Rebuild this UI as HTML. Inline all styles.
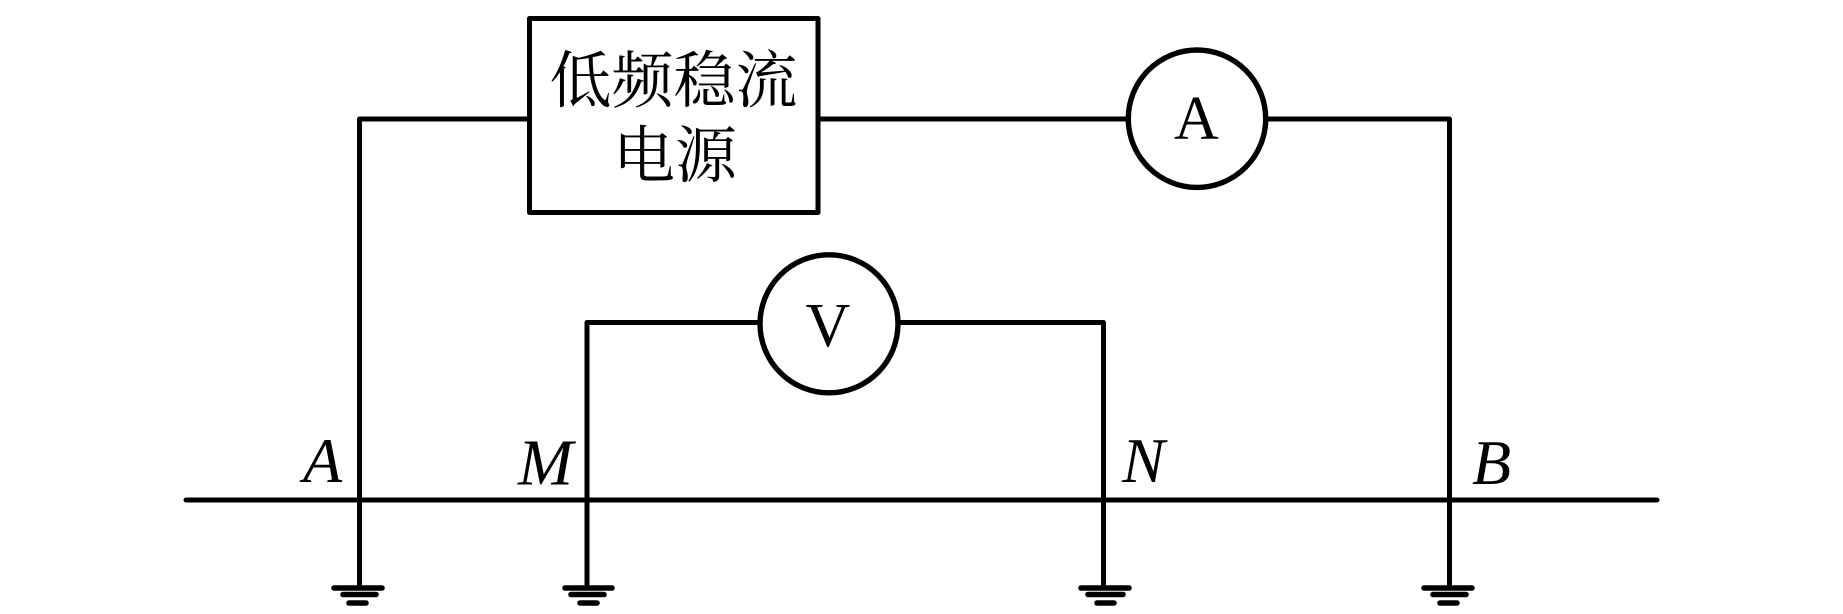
<!DOCTYPE html>
<html lang="zh">
<head>
<meta charset="utf-8">
<title>低频稳流电源接线图</title>
<style>
html,body{margin:0;padding:0;background:#fff;width:1843px;height:614px;overflow:hidden}
svg{display:block}
.cjk{font-family:"Noto Serif CJK SC","Liberation Serif",serif;font-size:62px;fill:#000}
.r{font-family:"Liberation Serif",serif;font-size:62px;fill:#000}
.i{font-family:"Liberation Serif",serif;font-size:64px;font-style:italic;fill:#000}
</style>
</head>
<body>
<svg width="1843" height="614" viewBox="0 0 1843 614" xmlns="http://www.w3.org/2000/svg">
<g fill="none" stroke="#000" stroke-width="5" stroke-linecap="round" stroke-linejoin="round">
  <!-- source box -->
  <rect x="529.5" y="18.5" width="288.5" height="194"/>
  <!-- top circuit -->
  <path d="M529.5 119H359.5V588"/>
  <path d="M818 119H1128"/>
  <path d="M1266 119H1449.5V588"/>
  <!-- voltmeter circuit -->
  <path d="M760 322.5H587V588"/>
  <path d="M898 322.5H1103.5V588"/>
  <!-- main line -->
  <path d="M186 500H1657"/>
  <!-- meters -->
  <circle cx="1197" cy="118.7" r="68.7" stroke-width="5.4"/>
  <circle cx="829" cy="323.8" r="69" stroke-width="5.4"/>
  <!-- grounds -->
  <g stroke-width="5.6">
  <path d="M334 588H382M343 594.5H376M349 603H366"/>
  <path d="M565 588H612M571 594.5H604M580 603H597"/>
  <path d="M1081 588H1129M1088 594.5H1123M1097 603H1114"/>
  <path d="M1424 588H1472M1433 594.5H1466M1440 603H1457"/>
  </g>
</g>
<text class="cjk" x="549.5" y="102">低频稳流</text>
<text class="cjk" x="613" y="177">电源</text>
<text class="r" x="1174" y="139">A</text>
<text class="r" x="805.5" y="346">V</text>
<text class="i" x="303" y="482">A</text>
<text class="i" x="518" y="484.5" style="font-size:66px">M</text>
<text class="i" x="1122" y="482">N</text>
<text class="i" x="1472" y="484">B</text>
</svg>
</body>
</html>
